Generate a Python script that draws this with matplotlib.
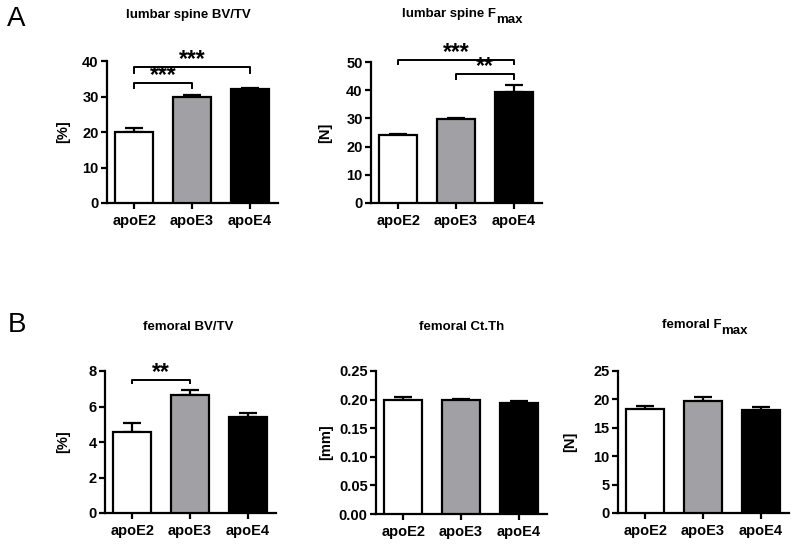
import matplotlib
matplotlib.use("Agg")
import matplotlib.pyplot as plt
from matplotlib.transforms import offset_copy

plt.rcParams['font.family'] = ['Liberation Sans', 'DejaVu Sans']

groups = ["apoE2", "apoE3", "apoE4"]
bar_colors = ["#ffffff", "#a1a1a5", "#000000"]

lumbar_bvtv = [20.0, 29.8, 32.0]
lumbar_bvtv_err = [1.1, 0.6, 0.4]
lumbar_fmax = [24.2, 29.7, 39.3]
lumbar_fmax_err = [0.4, 0.4, 2.6]
fem_bvtv = [4.55, 6.62, 5.42]
fem_bvtv_err = [0.52, 0.33, 0.23]
fem_ctth = [0.200, 0.199, 0.194]
fem_ctth_err = [0.004, 0.002, 0.004]
fem_fmax = [18.3, 19.8, 18.2]
fem_fmax_err = [0.6, 0.7, 0.4]

lumbar_bvtv_ticks = [0, 10, 20, 30, 40]
lumbar_fmax_ticks = [0, 10, 20, 30, 40, 50]
fem_bvtv_ticks = [0, 2, 4, 6, 8]
fem_ctth_ticks = [0.00, 0.05, 0.10, 0.15, 0.20, 0.25]
fem_ctth_labels = ["0.00", "0.05", "0.10", "0.15", "0.20", "0.25"]
fem_fmax_ticks = [0, 5, 10, 15, 20, 25]

W, H = 800, 548
fig = plt.figure(figsize=(8, 5.48), dpi=100)
renderer = fig.canvas.get_renderer()

def make_ax(left, right, top, bottom):
    return fig.add_axes([left / W, 1 - bottom / H, (right - left) / W, (bottom - top) / H])

def title_text(xc, yc, main, sub, size):
    t = fig.text(0, 1 - yc / H, main, ha="left", va="center", fontsize=size, fontweight="bold")
    if sub is None:
        t.set_ha("center")
        t.set_x(xc / W)
        return
    s = fig.text(0, 1 - (yc + 6) / H, sub, ha="left", va="center", fontsize=size, fontweight="bold")
    wm = t.get_window_extent(renderer).width
    ws = s.get_window_extent(renderer).width
    start = xc - (wm + ws) / 2
    t.set_x(start / W)
    s.set_x((start + wm) / W)

panels = [
    dict(box=(107, 278, 61, 203), vals=lumbar_bvtv, err=lumbar_bvtv_err, ticks=lumbar_bvtv_ticks,
         labels=None, ylabel="[%]", ylab_x=70,
         title=("lumbar spine BV/TV", None), title_xy=(188, 15),
         brackets=[(0, 1, 33.7, 32.4, "***"), (0, 2, 38.2, 36.6, "***")]),
    dict(box=(371, 542, 62, 203), vals=lumbar_fmax, err=lumbar_fmax_err, ticks=lumbar_fmax_ticks,
         labels=None, ylabel="[N]", ylab_x=332,
         title=("lumbar spine F", "max"), title_xy=(462, 14),
         brackets=[(0, 2, 50.7, 49.3, "***"), (1, 2, 45.6, 44.0, "**")]),
    dict(box=(105, 276, 371, 513), vals=fem_bvtv, err=fem_bvtv_err, ticks=fem_bvtv_ticks,
         labels=None, ylabel="[%]", ylab_x=70,
         title=("femoral BV/TV", None), title_xy=(188, 327),
         brackets=[(0, 1, 7.49, 7.31, "**")]),
    dict(box=(376, 547, 371, 514), vals=fem_ctth, err=fem_ctth_err, ticks=fem_ctth_ticks,
         labels=fem_ctth_labels, ylabel="[mm]", ylab_x=333,
         title=("femoral Ct.Th", None), title_xy=(462, 327),
         brackets=[]),
    dict(box=(618, 789, 371, 513), vals=fem_fmax, err=fem_fmax_err, ticks=fem_fmax_ticks,
         labels=None, ylabel="[N]", ylab_x=577,
         title=("femoral F", "max"), title_xy=(705, 325),
         brackets=[]),
]

for p in panels:
    l, r, t, b = p["box"]
    ax = make_ax(l, r, t, b)
    x = list(range(len(groups)))
    ax.bar(x, p["vals"], width=0.66, color=bar_colors, edgecolor="black", linewidth=1.6, zorder=3)
    ax.errorbar(x, p["vals"], yerr=[[0] * len(x), p["err"]], fmt="none", ecolor="black",
                elinewidth=1.6, capsize=6.5, capthick=1.6, zorder=2)
    ax.set_xlim(-0.47, 2.49)
    ax.set_ylim(p["ticks"][0], p["ticks"][-1])
    ax.set_yticks(p["ticks"])
    if p["labels"] is not None:
        ax.set_yticklabels(p["labels"])
    ax.set_xticks(x)
    ax.set_xticklabels(groups)
    for s in ["top", "right"]:
        ax.spines[s].set_visible(False)
    for s in ["left", "bottom"]:
        ax.spines[s].set_linewidth(1.6)
    ax.tick_params(axis="both", direction="out", length=4, width=1.6, labelsize=10.5, pad=2)
    ax.tick_params(axis="x", pad=4)
    for lab in ax.get_xticklabels() + ax.get_yticklabels():
        lab.set_fontweight("bold")
    ax.set_ylabel(p["ylabel"], fontsize=10.5, fontweight="bold")
    ax.yaxis.set_label_coords((p["ylab_x"] - l) / (r - l), 0.5)
    title_text(p["title_xy"][0], p["title_xy"][1], p["title"][0], p["title"][1], 9.5)
    for (i, j, yb, yt, stars) in p["brackets"]:
        ax.plot([i, i, j, j], [yt, yb, yb, yt], color="black", lw=1.4, clip_on=False, zorder=4)
        tr = offset_copy(ax.transData, fig=fig, x=0, y=1.5, units="dots")
        ax.text((i + j) / 2, yb, stars, ha="center", va="baseline", fontsize=16.5,
                fontweight="bold", clip_on=False, transform=tr)

fig.text(16 / W, 1 - 19 / H, "A", ha="center", va="center", fontsize=20)
fig.text(17 / W, 1 - 325 / H, "B", ha="center", va="center", fontsize=20)

fig.savefig("out.png", dpi=100)
